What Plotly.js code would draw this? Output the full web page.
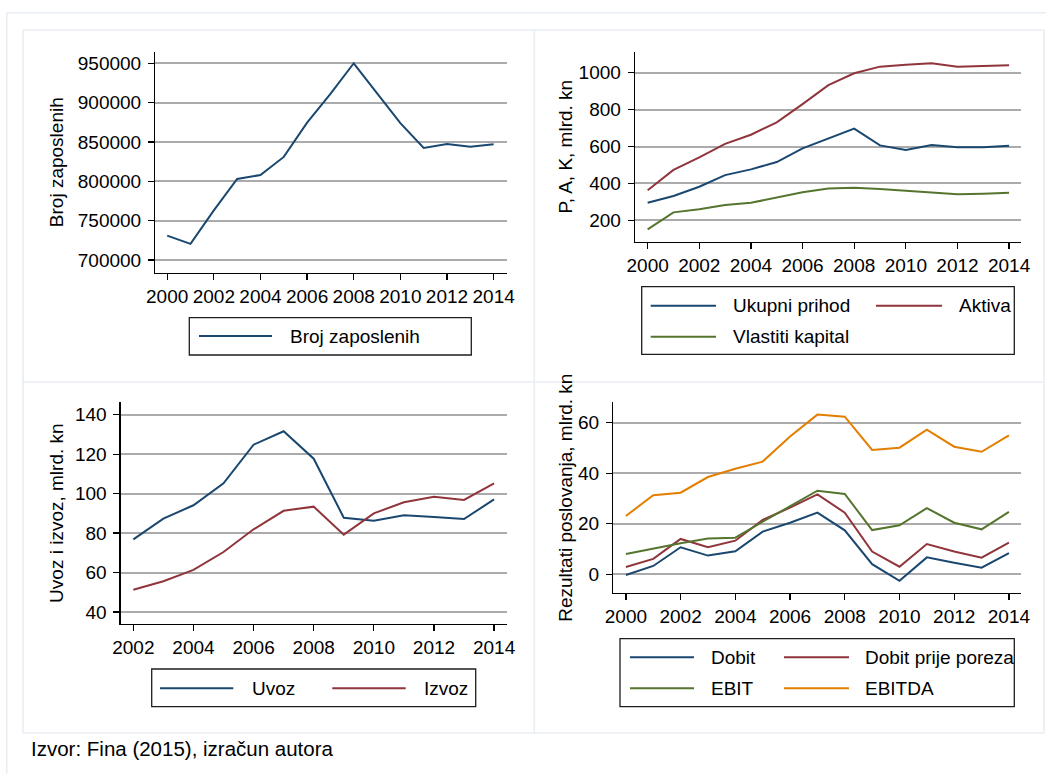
<!DOCTYPE html>
<html>
<head>
<meta charset="utf-8">
<script src="https://cdn.plot.ly/plotly-3.0.1.min.js"></script>
<style>
html,body{margin:0;padding:0;background:#fff;}
#chart{width:1046px;height:774px;}
</style>
</head>
<body>
<div id="chart"></div>
<script>
// ---------------- data ----------------
const years = [2000, 2001, 2002, 2003, 2004, 2005, 2006, 2007, 2008, 2009, 2010, 2011, 2012, 2013, 2014];
const tradeYears = [2002, 2003, 2004, 2005, 2006, 2007, 2008, 2009, 2010, 2011, 2012, 2013, 2014];

const brojZaposlenih = [731000, 720500, 763000, 803000, 808000, 831000, 874500, 911000, 950000, 912500, 874000, 842500, 847500, 844000, 847000];

const ukupniPrihod = [295, 332, 382, 445, 476, 516, 590, 644, 697, 606, 581, 608, 596, 596, 604];
const aktiva = [363, 473, 541, 614, 664, 731, 830, 933, 997, 1033, 1043, 1051, 1033, 1036, 1040];
const vlastitiKapital = [151, 243, 260, 283, 295, 325, 352, 373, 377, 370, 360, 353, 341, 344, 350];

const uvoz = [76.8, 87.3, 94.1, 105.2, 124.8, 131.6, 117.7, 87.8, 86.3, 89.0, 88.1, 87.1, 97.1];
const izvoz = [51.3, 55.6, 61.3, 70.4, 81.9, 91.3, 93.4, 79.2, 90.0, 95.6, 98.4, 96.8, 105.2];

const dobit = [-0.3, 3.3, 10.7, 7.4, 9.1, 16.9, 20.4, 24.4, 17.4, 4.0, -2.6, 6.7, 4.6, 2.6, 8.4];
const dobitPrijePoreza = [2.9, 6.1, 14.0, 10.7, 13.3, 21.5, 26.4, 31.6, 24.4, 9.0, 3.0, 12.0, 9.0, 6.6, 12.5];
const ebit = [8.0, 10.3, 12.3, 14.2, 14.5, 20.8, 26.8, 33.1, 31.8, 17.5, 19.4, 26.2, 20.4, 17.8, 24.7];
const ebitda = [23.1, 31.3, 32.3, 38.5, 41.8, 44.6, 54.5, 63.2, 62.4, 49.2, 50.1, 57.2, 50.5, 48.5, 55.0];

const yTitles = ['Broj zaposlenih', 'P, A, K, mlrd. kn', 'Uvoz i izvoz, mlrd. kn', 'Rezultati poslovanja, mlrd. kn'];
const sourceNote = 'Izvor: Fina (2015), izračun autora';

// ---------------- style ----------------
const W = 1046, H = 774;
const C = {navy: '#1a476f', maroon: '#90353b', green: '#55752f', orange: '#e37e00'};
const FONT = 'Liberation Sans, Arial, sans-serif';
const FS = 19;
const px = x => x / W;
const py = y => 1 - y / H;

function line(x, y, name, color, xa, ya) {
  return {x: x, y: y, name: name, type: 'scatter', mode: 'lines',
    line: {color: color, width: 2}, xaxis: xa, yaxis: ya, showlegend: false, hoverinfo: 'x+y+name'};
}

const traces = [
  line(years, brojZaposlenih, 'Broj zaposlenih', C.navy, 'x', 'y'),
  line(years, ukupniPrihod, 'Ukupni prihod', C.navy, 'x2', 'y2'),
  line(years, aktiva, 'Aktiva', C.maroon, 'x2', 'y2'),
  line(years, vlastitiKapital, 'Vlastiti kapital', C.green, 'x2', 'y2'),
  line(tradeYears, uvoz, 'Uvoz', C.navy, 'x3', 'y3'),
  line(tradeYears, izvoz, 'Izvoz', C.maroon, 'x3', 'y3'),
  line(years, dobit, 'Dobit', C.navy, 'x4', 'y4'),
  line(years, dobitPrijePoreza, 'Dobit prije poreza', C.maroon, 'x4', 'y4'),
  line(years, ebit, 'EBIT', C.green, 'x4', 'y4'),
  line(years, ebitda, 'EBITDA', C.orange, 'x4', 'y4')
];

function xAxis(x0, x1, range, anchor, tick0) {
  return {domain: [px(x0), px(x1)], range: range, anchor: anchor,
    showline: true, linecolor: '#000', linewidth: 1.3, mirror: false,
    ticks: 'outside', ticklen: 6, tickwidth: 1.3, tickcolor: '#000',
    tickmode: 'linear', tick0: tick0, dtick: 2, tickformat: 'd',
    showgrid: false, zeroline: false, fixedrange: true,
    tickfont: {family: FONT, size: FS, color: '#000'}};
}
function yAxis(yt, yb, range, anchor, tick0, dtick, title, standoff) {
  return {domain: [py(yb), py(yt)], range: range, anchor: anchor,
    showline: true, linecolor: '#000', linewidth: 1.3,
    ticks: 'outside', ticklen: 6, tickwidth: 1.3, tickcolor: '#000',
    tickmode: 'linear', tick0: tick0, dtick: dtick, tickformat: 'd',
    ticklabelstandoff: 3,
    showgrid: true, gridcolor: '#ababab', gridwidth: 2,
    zeroline: false, fixedrange: true,
    tickfont: {family: FONT, size: FS, color: '#000'},
    title: {text: title, standoff: standoff, font: {family: FONT, size: FS, color: '#000'}}};
}

// legend drawn as layout shapes + annotations (long Stata-style keys)
const shapes = [];
const annotations = [];
function legendBox(x0, y0, x1, y1) {
  shapes.push({type: 'rect', xref: 'paper', yref: 'paper', x0: px(x0), x1: px(x1), y0: py(y0), y1: py(y1),
    line: {color: '#1e1e1e', width: 1.3}, fillcolor: 'rgba(0,0,0,0)'});
}
function legendKey(lx0, lx1, tx, y, label, color) {
  shapes.push({type: 'line', xref: 'paper', yref: 'paper', x0: px(lx0), x1: px(lx1), y0: py(y), y1: py(y),
    line: {color: color, width: 2}});
  annotations.push({xref: 'paper', yref: 'paper', x: px(tx), y: py(y), xanchor: 'left', yanchor: 'middle',
    text: label, showarrow: false, font: {family: FONT, size: FS, color: '#000'}});
}

// panel frames (light Stata graph-region borders)
const frameCol = '#e8eef3';
function seg(x0, y0, x1, y1) {
  shapes.push({type: 'line', xref: 'paper', yref: 'paper', x0: px(x0), y0: py(y0), x1: px(x1), y1: py(y1),
    line: {color: frameCol, width: 1.6}, layer: 'below'});
}
seg(6.7, 12.7, 1046, 12.7); seg(6.7, 12.7, 6.7, 774);
seg(23, 30, 1044, 30); seg(23, 30, 23, 733); seg(1044, 30, 1044, 733); seg(23, 733, 1044, 733);
seg(534.3, 30, 534.3, 733); seg(23, 382, 1044, 382);

// legends
legendBox(189.3, 317.7, 471.3, 355);
legendKey(199, 272, 288, 336, traces[0].name, C.navy);

legendBox(641.7, 286.7, 1014.3, 354.3);
legendKey(650.7, 716, 731, 305.7, traces[1].name, C.navy);
legendKey(876, 942, 956.7, 305.7, traces[2].name, C.maroon);
legendKey(650.7, 716, 731, 336.7, traces[3].name, C.green);

legendBox(151.7, 669, 475.7, 706.7);
legendKey(160, 233.3, 250, 688.3, traces[4].name, C.navy);
legendKey(332.3, 405.7, 422.3, 688.3, traces[5].name, C.maroon);

legendBox(620, 638.7, 1014.3, 706.7);
legendKey(630, 694, 709, 657.3, traces[6].name, C.navy);
legendKey(784, 849, 863.3, 657.3, traces[7].name, C.maroon);
legendKey(630, 694, 709, 688.3, traces[8].name, C.green);
legendKey(784, 849, 863.3, 688.3, traces[9].name, C.orange);

annotations.push({xref: 'paper', yref: 'paper', x: px(29), y: py(748.3), xanchor: 'left', yanchor: 'middle',
  text: sourceNote, showarrow: false, font: {family: FONT, size: 20.5, color: '#000'}});

const layout = {
  width: W, height: H, margin: {l: 0, r: 0, t: 0, b: 0},
  paper_bgcolor: '#fff', plot_bgcolor: 'rgba(0,0,0,0)', showlegend: false,
  font: {family: FONT, size: FS, color: '#000'},
  xaxis: xAxis(155.3, 506.7, [1999.49, 2014.56], 'y', 2000),
  yaxis: yAxis(51.7, 272.7, [683900, 964700], 'x', 700000, 50000, yTitles[0], 9),
  xaxis2: xAxis(635, 1020.7, [1999.51, 2014.45], 'y2', 2000),
  yaxis2: yAxis(51.7, 241.7, [84, 1114], 'x2', 200, 200, yTitles[1], 1),
  xaxis3: xAxis(120.7, 506.7, [2001.58, 2014.42], 'y3', 2002),
  yaxis3: yAxis(402.3, 624, [33.9, 146.3], 'x3', 40, 20, yTitles[2], 6),
  xaxis4: xAxis(613.3, 1020.7, [1999.54, 2014.43], 'y4', 2000),
  yaxis4: yAxis(402.3, 593, [-7.4, 68.07], 'x4', 0, 20, yTitles[3], 0),
  shapes: shapes, annotations: annotations
};

Plotly.newPlot('chart', traces, layout, {displayModeBar: false, staticPlot: true});
</script>
</body>
</html>
